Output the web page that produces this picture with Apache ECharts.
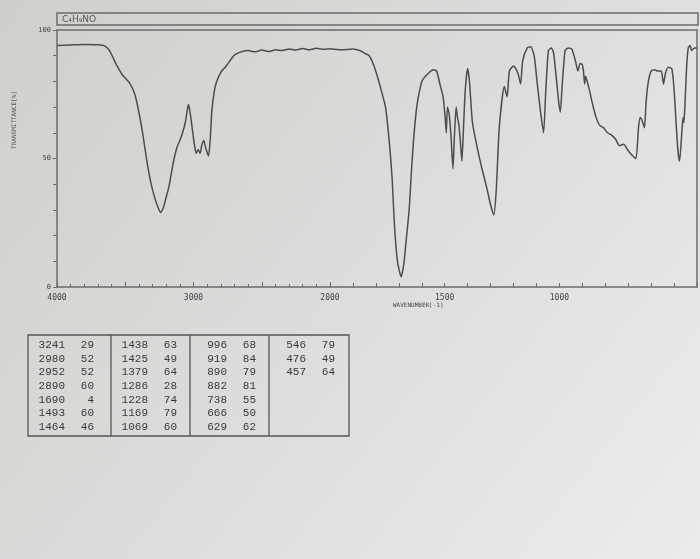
<!DOCTYPE html>
<html>
<head>
<meta charset="utf-8">
<script src="https://cdn.jsdelivr.net/npm/echarts@6/dist/echarts.min.js"></script>
<style>
html,body{margin:0;padding:0;background:#dcdcda;}
#chart{width:700px;height:559px;}
</style>
</head>
<body>
<div id="chart"></div>
<script>
// ---- data ----
const formula = 'C\u2084H\u2089NO';
const wavenumbers = [4000,3900,3800,3700,3650,3610,3570,3520,3470,3430,3400,3370,3340,3310,3280,3260,3241,3220,3200,3180,3160,3140,3120,3100,3080,3060,3045,3037,3025,3010,2995,2980,2966,2952,2940,2925,2910,2890,2878,2865,2845,2830,2800,2760,2720,2693,2650,2600,2550,2500,2450,2400,2350,2300,2250,2200,2150,2100,2050,2000,
1950,1900,1870,1850,1829,1810,1792,1775,1758,1741,1729,1719,1706,1690,1678,1668,1655,1645,1635,1622,1608,1597,1573,1550,1535,1521,1507,1498,1493,1488,1480,1472,1464,1458,1450,1444,1438,1432,1425,1418,1410,1400,1392,1379,1360,1340,1315,1300,1286,1275,1262,1240,1228,1218,1200,1180,1169,1160,1140,1125,1110,1095,1082,1069,1060,1048,1035,1025,1012,1003,996,988,975,960,945,930,919,910,900,895,890,886,882,870,855,840,825,808,790,771,755,738,720,700,680,666,655,648,640,629,622,612,600,585,570,556,546,538,525,510,500,490,482,476,470,464,460,457,452,445,438,430,424,418,410,400];
const transmittance = [94,94.2,94.4,94.3,93.8,91.5,87,82.5,79.5,75,68,59,48.5,40,34,31,29,31,35,39,45,50.5,54.5,57,60,64,69,71,68,62,56,52,53.5,52,55,57,54,51,57,69,77,80,83.5,86,89,90.5,91.5,92,91.5,92.2,91.6,92.3,92,92.6,92.2,92.8,92.3,92.9,92.5,92.7,
92.3,92.6,92,91,90,86.5,81.5,76,70,56,42,24,10,4,9,18,30,45,58,70,77,80.5,83,84.5,84,79,74,66,60,70,67,58,46,58,70,66,63,57,49,62,77,85,80,64,55,47,38,32,28,38,62,78,74,84,86,83,79,88,93,93.5,90,78,68,60,75,92,93,91,80,72,68,78,92,93,92.5,88,84,87,86.5,84,79,82,81,77,71,66,63,62,60,59,57.5,55,55.5,53,51,50,62,66,65,62,72,80,84,84.5,84,84,79,83,85.5,85,77,62,52,49,55,63,66,64,72,86,93,94,92,92.5,93,93];

const peakWn = [3241,2980,2952,2890,1690,1493,1464,1438,1425,1379,1286,1228,1169,1069,996,919,890,882,738,666,629,546,476,457];
const peakT  = [29,52,52,60,4,60,46,63,49,64,28,74,79,60,68,84,79,81,55,50,62,79,49,64];

const xLabelsLeft = [4000, 3000, 2000];
const xLabelsRight = [1500, 1000];
const yLabels = [0, 50, 100];
const xAxisName = 'WAVENUMBER[-1]';
const yAxisName = 'TRANSMITTANCE[%]';

// ---- build ----
const leftData = [], rightData = [];
wavenumbers.forEach((w, i) => {
  if (w >= 2000) leftData.push([w, transmittance[i]]);
  if (w <= 2000) rightData.push([w, transmittance[i]]);
});

const ink = '#4d4d4d';
const frame = '#6b6b6b';
const labelFont = 'DejaVu Sans Mono';

// table graphics
const tbl = {left: 28, top: 335, width: 321, height: 101, cols: [28, 111, 190, 269], rows: [345, 359, 372, 386, 400, 413, 427]};
const tableGraphics = [
  {type: 'rect', shape: {x: tbl.left, y: tbl.top, width: tbl.width, height: tbl.height},
   style: {fill: 'none', stroke: '#555', lineWidth: 1.3}}
];
tbl.cols.slice(1).forEach(cx => {
  tableGraphics.push({type: 'line', shape: {x1: cx, y1: tbl.top, x2: cx, y2: tbl.top + tbl.height},
    style: {stroke: '#555', lineWidth: 1.3}});
});
peakWn.forEach((w, i) => {
  const c = Math.floor(i / 7), r = i % 7;
  const cx = tbl.cols[c], cy = tbl.rows[r];
  tableGraphics.push({type: 'text', x: cx + 37, y: cy,
    style: {text: String(w), align: 'right', verticalAlign: 'middle', font: '11px "Liberation Mono"', fill: '#3a3a3a'}});
  tableGraphics.push({type: 'text', x: cx + 66, y: cy,
    style: {text: String(peakT[i]), align: 'right', verticalAlign: 'middle', font: '11px "Liberation Mono"', fill: '#3a3a3a'}});
});

const chart = echarts.init(document.getElementById('chart'), null, {renderer: 'canvas'});
const axisLineStyle = {color: frame, width: 1.5};

chart.setOption({
  animation: false,
  backgroundColor: {type: 'linear', x: 0, y: 0, x2: 1, y2: 1,
    colorStops: [{offset: 0, color: '#cfcfcc'}, {offset: 0.45, color: '#dbdbd9'}, {offset: 1, color: '#ececeb'}]},
  grid: [
    {left: 57, width: 273, top: 30, height: 257},
    {left: 330, width: 368, top: 30, height: 257}
  ],
  xAxis: [
    {gridIndex: 0, type: 'value', min: 2000, max: 4000, inverse: true, interval: 500,
     axisLine: {lineStyle: axisLineStyle},
     axisTick: {inside: true, length: 5, lineStyle: {color: frame}},
     minorTick: {show: true, splitNumber: 5, length: 3, lineStyle: {color: frame}},
     splitLine: {show: false},
     axisLabel: {fontSize: 8, color: '#444', fontFamily: labelFont, margin: 7,
       formatter: v => xLabelsLeft.includes(v) ? String(v) : ''}},
    {gridIndex: 1, type: 'value', min: 400, max: 2000, inverse: true, interval: 100,
     axisLine: {lineStyle: axisLineStyle},
     axisTick: {inside: true, length: 4, lineStyle: {color: frame}},
     splitLine: {show: false},
     axisLabel: {fontSize: 8, color: '#444', fontFamily: labelFont, margin: 7,
       formatter: v => xLabelsRight.includes(v) ? String(v) : ''}},
    {gridIndex: 0, type: 'value', position: 'top', min: 2000, max: 4000, inverse: true,
     axisLine: {lineStyle: axisLineStyle}, axisTick: {show: false}, axisLabel: {show: false}, splitLine: {show: false}},
    {gridIndex: 1, type: 'value', position: 'top', min: 400, max: 2000, inverse: true,
     axisLine: {lineStyle: axisLineStyle}, axisTick: {show: false}, axisLabel: {show: false}, splitLine: {show: false}}
  ],
  yAxis: [
    {gridIndex: 0, type: 'value', min: 0, max: 100, interval: 10,
     axisLine: {show: true, lineStyle: axisLineStyle},
     axisTick: {show: true, length: 4, lineStyle: {color: frame}},
     splitLine: {show: false},
     axisLabel: {fontSize: 7, color: '#444', fontFamily: labelFont, margin: 6,
       formatter: v => yLabels.includes(v) ? String(v) : ''}},
    {gridIndex: 1, type: 'value', min: 0, max: 100, position: 'right',
     axisLine: {show: true, lineStyle: axisLineStyle},
     axisTick: {show: false}, axisLabel: {show: false}, splitLine: {show: false}}
  ],
  series: [
    {type: 'line', xAxisIndex: 0, yAxisIndex: 0, data: leftData, showSymbol: false, smooth: 0.2,
     lineStyle: {color: ink, width: 1.5}},
    {type: 'line', xAxisIndex: 1, yAxisIndex: 1, data: rightData, showSymbol: false, smooth: 0.2,
     lineStyle: {color: ink, width: 1.5}}
  ],
  graphic: [
    {type: 'rect', shape: {x: 57, y: 13, width: 641, height: 12},
     style: {fill: 'none', stroke: frame, lineWidth: 1.5}},
    {type: 'text', x: 62, y: 19.5,
     style: {text: formula, verticalAlign: 'middle', font: '9px "DejaVu Sans"', fill: '#555'}},
    {type: 'text', x: 393, y: 305,
     style: {text: xAxisName, verticalAlign: 'middle', font: '6px "DejaVu Sans Mono"', fill: '#444'}},
    {type: 'text', x: 14, y: 120, rotation: Math.PI / 2,
     style: {text: yAxisName, align: 'center', verticalAlign: 'middle', font: '6px "DejaVu Sans Mono"', fill: '#555'}}
  ].concat(tableGraphics)
});
</script>
</body>
</html>
